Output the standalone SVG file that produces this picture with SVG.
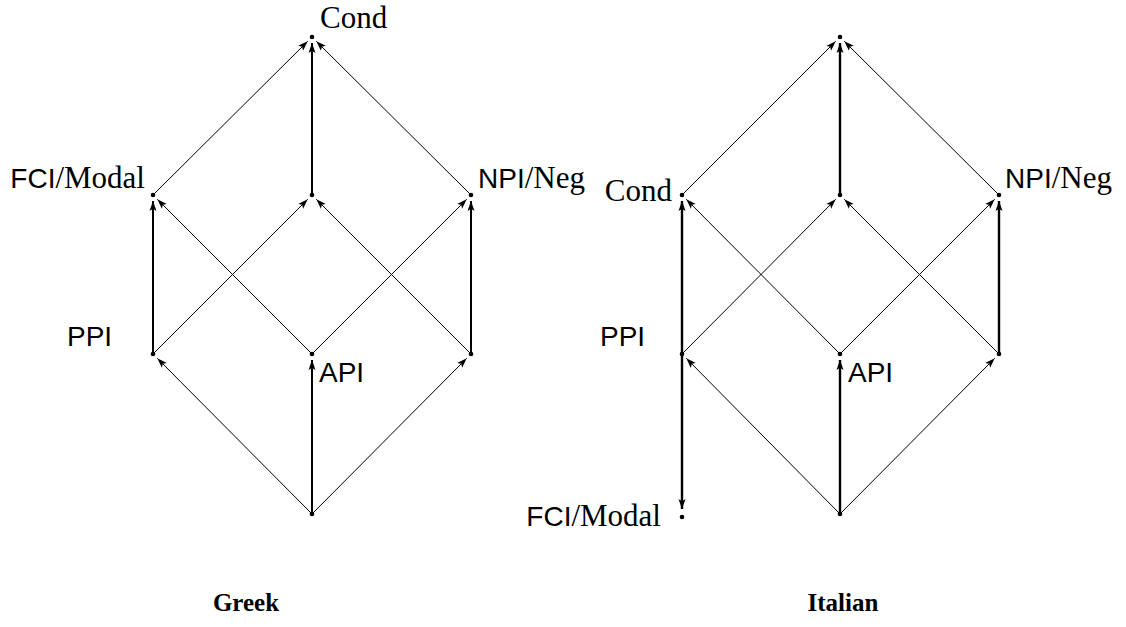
<svg xmlns="http://www.w3.org/2000/svg" width="1126" height="627" viewBox="0 0 1126 627">
<defs>
<marker id="ah" markerUnits="userSpaceOnUse" markerWidth="12" markerHeight="9" refX="10" refY="4" orient="auto">
<path d="M0,0.5 L10,4 L0,7.5 L2.2,4 z" fill="#000"/>
</marker>
<style>
.e{stroke:#000;stroke-width:1;fill:none;marker-end:url(#ah)}
.t{stroke:#000;stroke-width:2;fill:none;marker-end:url(#ah)}
.ti{stroke:#000;stroke-width:2.4;fill:none;marker-end:url(#ah)}
.d{fill:#000}
.rm{font-family:"Liberation Serif",serif;font-size:31px}
.sf{font-family:"Liberation Sans",sans-serif;font-size:28px}
.bf{font-family:"Liberation Serif",serif;font-size:25px;font-weight:bold}
</style>
</defs>
<rect width="1126" height="627" fill="#fff"/>
<g id="connectors">
<line class="e" x1="153" y1="195" x2="307.7" y2="41.3"/>
<line class="t" x1="312" y1="195" x2="312" y2="43"/>
<line class="e" x1="471" y1="195" x2="316.3" y2="41.3"/>
<line class="t" x1="153" y1="354" x2="153" y2="201"/>
<line class="e" x1="153" y1="354" x2="307.7" y2="199.3"/>
<line class="e" x1="312" y1="354" x2="157.3" y2="199.3"/>
<line class="e" x1="312" y1="354" x2="466.7" y2="199.3"/>
<line class="e" x1="471" y1="354" x2="316.3" y2="199.3"/>
<line class="t" x1="471" y1="354" x2="471" y2="201"/>
<line class="e" x1="312" y1="514" x2="157.3" y2="358.3"/>
<line class="t" x1="312" y1="514" x2="312" y2="360"/>
<line class="e" x1="312" y1="514" x2="466.7" y2="358.3"/>

<line class="e" x1="682" y1="195" x2="835.7" y2="41.3"/>
<line class="ti" x1="840" y1="195" x2="840" y2="43"/>
<line class="e" x1="999" y1="195" x2="844.3" y2="41.3"/>
<line class="ti" x1="682" y1="354" x2="682" y2="201"/>
<line class="e" x1="682" y1="354" x2="835.7" y2="199.3"/>
<line class="e" x1="840" y1="354" x2="686.3" y2="199.3"/>
<line class="e" x1="840" y1="354" x2="994.7" y2="199.3"/>
<line class="e" x1="999" y1="354" x2="844.3" y2="199.3"/>
<line class="ti" x1="999" y1="354" x2="999" y2="201"/>
<line class="e" x1="840" y1="514" x2="686.3" y2="358.3"/>
<line class="ti" x1="840" y1="514" x2="840" y2="360"/>
<line class="e" x1="840" y1="514" x2="994.7" y2="358.3"/>
<line class="ti" x1="682" y1="354" x2="682" y2="509"/>
</g>
<g id="g-top"><circle class="d" cx="312" cy="37" r="2.3"/><text class="rm" x="320" y="28">Cond</text></g>
<g id="g-fci"><circle class="d" cx="153" cy="195" r="2.3"/><text x="145" y="188" text-anchor="end"><tspan class="sf">FCI</tspan><tspan class="rm">/Modal</tspan></text></g>
<g id="g-mid"><circle class="d" cx="312" cy="195" r="2.3"/></g>
<g id="g-npi"><circle class="d" cx="471" cy="195" r="2.3"/><text x="478" y="188"><tspan class="sf">NPI</tspan><tspan class="rm">/Neg</tspan></text></g>
<g id="g-ppi"><circle class="d" cx="153" cy="354" r="2.3"/><text class="sf" x="67" y="346">PPI</text></g>
<g id="g-api"><circle class="d" cx="312" cy="354" r="2.3"/><text class="sf" x="319" y="382">API</text></g>
<g id="g-right"><circle class="d" cx="471" cy="354" r="2.3"/></g>
<g id="g-bottom"><circle class="d" cx="312" cy="514" r="2.3"/></g>

<g id="i-top"><circle class="d" cx="840" cy="37" r="2.3"/></g>
<g id="i-cond"><circle class="d" cx="682" cy="195" r="2.3"/><text class="rm" x="672" y="201" text-anchor="end">Cond</text></g>
<g id="i-mid"><circle class="d" cx="840" cy="195" r="2.3"/></g>
<g id="i-npi"><circle class="d" cx="999" cy="195" r="2.3"/><text x="1005" y="188"><tspan class="sf">NPI</tspan><tspan class="rm">/Neg</tspan></text></g>
<g id="i-ppi"><circle class="d" cx="682" cy="354" r="2.3"/><text class="sf" x="600" y="346">PPI</text></g>
<g id="i-api"><circle class="d" cx="840" cy="354" r="2.3"/><text class="sf" x="848" y="382">API</text></g>
<g id="i-right"><circle class="d" cx="999" cy="354" r="2.3"/></g>
<g id="i-bottom"><circle class="d" cx="840" cy="514" r="2.3"/></g>
<g id="i-fci"><circle class="d" cx="682" cy="517" r="2.3"/><text x="661" y="526" text-anchor="end"><tspan class="sf">FCI</tspan><tspan class="rm">/Modal</tspan></text></g>

<g id="captions">
<text class="bf" x="246" y="611" text-anchor="middle">Greek</text>
<text class="bf" x="843" y="611" text-anchor="middle">Italian</text>
</g>
</svg>
